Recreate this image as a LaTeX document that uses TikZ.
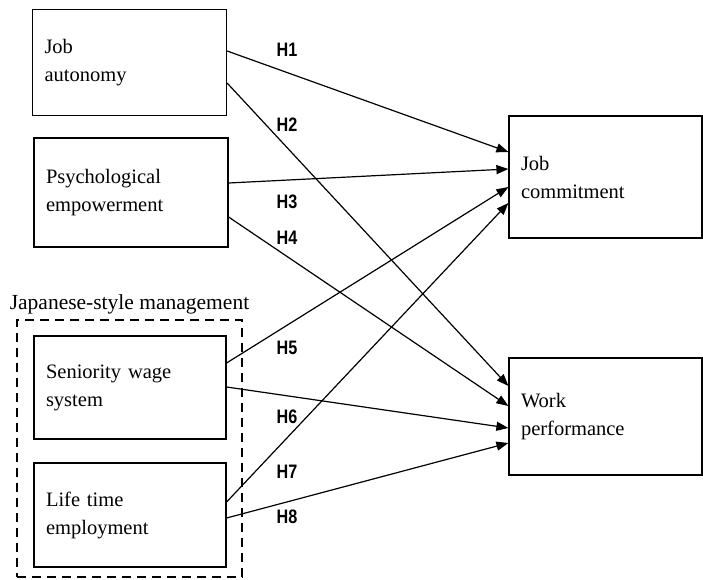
\documentclass[tikz,border=0pt]{standalone}
\usepackage{fontspec}
\setmainfont{Liberation Serif}
\newfontfamily\hypfont[FakeStretch=0.83]{Liberation Sans}
\usetikzlibrary{arrows.meta}
\tikzset{
  box/.style={draw, line width=1.2pt, text width=170pt, inner xsep=12pt, align=left,
    minimum height=#1, font=\fontsize{20.5}{28}\selectfont},
  box/.default=106pt,
  hyp/.style={font=\hypfont\bfseries\fontsize{19.5}{21}\selectfont, inner sep=1pt},
  link/.style={-{Triangle[length=12pt,width=9pt]}, line width=1.2pt}
}
\begin{document}
\begin{tikzpicture}[x=1pt,y=-1pt]
\useasboundingbox (0,0) rectangle (703,580);
% independent variables
\node[box] (ja) at (129.5,62.5) {Job\\autonomy};
\node[box=109pt] (pe) at (131,192.5) {Psychological\\empowerment};
\node[draw, line width=2.6pt, dash pattern=on 9pt off 6pt, minimum width=225pt, minimum height=257pt] (jsm) at (129.5,448.5) {};
\node[font=\fontsize{21.5}{24}\selectfont, above=1pt] (jsmlabel) at (jsm.north) {Japanese-style management};
\node[box=103pt, text width=168pt] (sw) at (130,387.5) {Seniority wage\\system};
\node[box=104pt, text width=168pt] (lt) at (130,515) {Life time\\employment};
% dependent variables
\node[box=122pt, text width=169pt] (jc) at (605.5,177) {Job\\commitment};
\node[box=117pt, text width=169pt] (wp) at (605.5,416.5) {Work\\performance};
% hypotheses
\draw[link] ([yshift=11.5pt]ja.east) -- ([yshift=25pt]jc.west);
\draw[link] ([yshift=-20.5pt]ja.east) -- ([yshift=30.5pt]wp.west);
\draw[link] ([yshift=9.5pt]pe.east) -- ([yshift=8pt]jc.west);
\draw[link] ([yshift=-24.5pt]pe.east) -- ([yshift=10.5pt]wp.west);
\draw[link] ([yshift=24.5pt]sw.east) -- ([yshift=-10pt]jc.west);
\draw[link] ([yshift=0.5pt]sw.east) -- ([yshift=-11.5pt]wp.west);
\draw[link] ([yshift=13pt]lt.east) -- ([yshift=-26pt]jc.west);
\draw[link] ([yshift=-3pt]lt.east) -- ([yshift=-26.5pt]wp.west);
\node[hyp] (h1) at (287,50) {H1};
\node[hyp] (h2) at (287,125) {H2};
\node[hyp] (h3) at (287,202) {H3};
\node[hyp] (h4) at (287,238) {H4};
\node[hyp] (h5) at (287,348) {H5};
\node[hyp] (h6) at (287,417) {H6};
\node[hyp] (h7) at (287,472) {H7};
\node[hyp] (h8) at (287,517) {H8};
\end{tikzpicture}
\end{document}
